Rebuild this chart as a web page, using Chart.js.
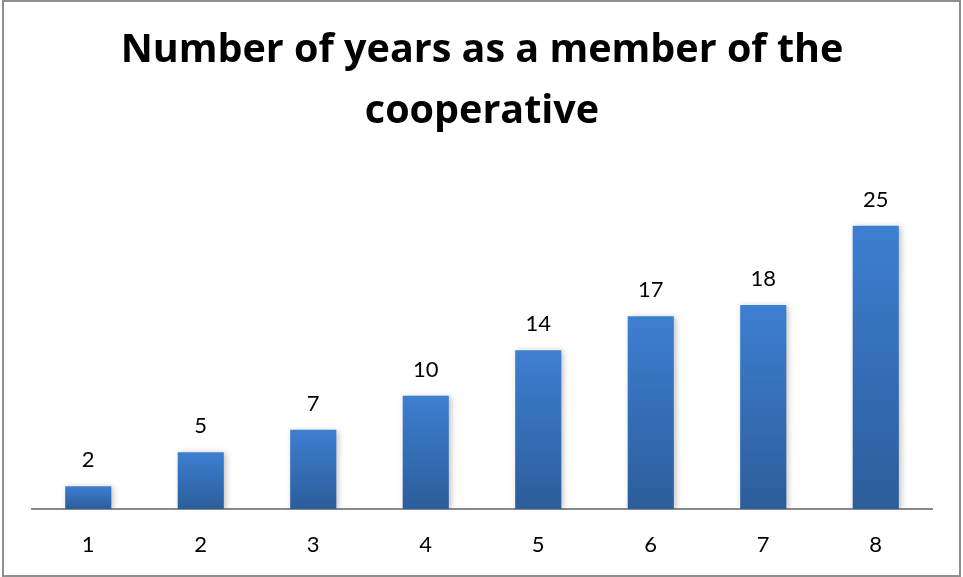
<!DOCTYPE html>
<html>
<head>
<meta charset="utf-8">
<script src="https://cdn.jsdelivr.net/npm/chart.js@4"></script>
<style>
  body { margin: 0; background: #fff; }
  #wrap { position: relative; width: 963px; height: 577px; }
  #frame { position: absolute; left: 2px; top: 0; width: 955px; height: 573px; border: 2px solid #8e8e8e; pointer-events: none; }
  canvas { position: absolute; left: 0; top: 0; }
</style>
</head>
<body>
<div id="wrap">
  <canvas id="chart" width="963" height="577"></canvas>
  <div id="frame"></div>
</div>
<script>
// data
let categories = ["1", "2", "3", "4", "5", "6", "7", "8"];
let members = [2, 5, 7, 10, 14, 17, 18, 25];
let titleLines = ["Number of years as a member of the", "cooperative"];

let FONT = "Lato, Calibri, 'Open Sans', sans-serif";
let TITLE_FONT = "'Open Sans', Calibri, sans-serif";

//-----------------------------------------------
// each bar gets its own light-to-dark gradient
function barFill(context) {
  let chart = context.chart;
  let y = chart.scales.y;
  if (!chart.chartArea || !y) return "#3a78c4";
  let top = y.getPixelForValue(context.raw);
  let base = y.getPixelForValue(0);
  let g = chart.ctx.createLinearGradient(0, top, 0, base);
  g.addColorStop(0, "#3d7fd1");
  g.addColorStop(1, "#2c5d9b");
  return g;
}

//-----------------------------------------------
// value labels above bars + soft shadow
let barExtras = {
  id: "barExtras",
  beforeDatasetsDraw(chart) {
    let ctx = chart.ctx;
    ctx.save();
    ctx.shadowColor = "rgba(0,0,0,0.25)";
    ctx.shadowBlur = 6;
    ctx.shadowOffsetX = 2;
    ctx.shadowOffsetY = 1;
  },
  afterDatasetsDraw(chart) {
    let ctx = chart.ctx;
    ctx.restore();
    ctx.save();
    ctx.fillStyle = "#000";
    ctx.font = "22px " + FONT;
    ctx.textAlign = "center";
    ctx.textBaseline = "alphabetic";
    chart.getDatasetMeta(0).data.forEach((bar, i) => {
      ctx.fillText(String(members[i]), bar.x, bar.y - 19);
    });
    ctx.restore();
  }
};

new Chart(document.getElementById("chart"), {
  type: "bar",
  data: {
    labels: categories,
    datasets: [{
      data: members,
      backgroundColor: barFill,
      borderWidth: 0,
      categoryPercentage: 1,
      barPercentage: 0.41
    }]
  },
  options: {
    responsive: false,
    animation: false,
    layout: { padding: { left: 32, right: 31, top: 0, bottom: 8 } },
    plugins: {
      legend: { display: false },
      tooltip: { enabled: false },
      title: {
        display: true,
        text: titleLines,
        color: "#000",
        font: { family: TITLE_FONT, size: 39.5, weight: "bold", lineHeight: 1.545 },
        padding: { top: 20, bottom: 27 }
      }
    },
    scales: {
      x: {
        grid: { display: false },
        border: { display: true, color: "#8a8a8a", width: 2 },
        ticks: { color: "#000", font: { family: FONT, size: 22 }, padding: 15 },
        afterFit(scale) { scale.height = 60; }
      },
      y: {
        display: false,
        min: 0,
        max: 30
      }
    }
  },
  plugins: [barExtras]
});
</script>
</body>
</html>
